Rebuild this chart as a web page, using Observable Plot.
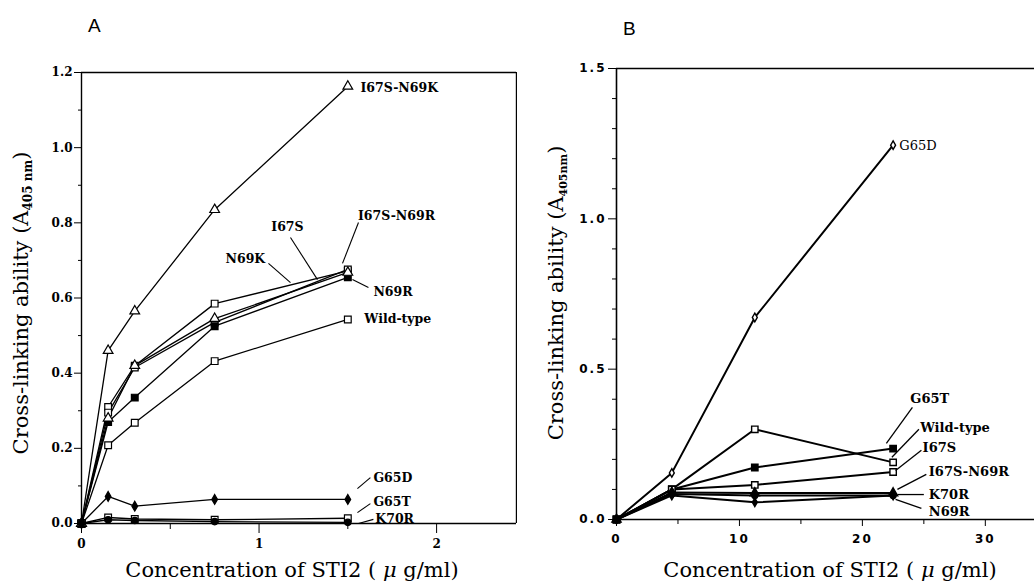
<!DOCTYPE html>
<html><head><meta charset="utf-8">
<script src="https://cdn.jsdelivr.net/npm/d3@7"></script>
<script src="https://cdn.jsdelivr.net/npm/@observablehq/plot@0.6"></script>
<style>
html,body{margin:0;padding:0;background:#fff;}
#wrap{position:relative;width:1034px;height:583px;overflow:hidden;background:#fff;}
#a,#b{position:absolute;top:0;}
#a{left:0;} #b{left:517px;}
</style></head><body>
<div id="wrap"><div id="a"></div><div id="b"></div></div>
<script>
// ---------- Panel A data ----------
const concA = [0, 0.15, 0.3, 0.75, 1.5];
const a_I67S_N69K = [0, 0.46, 0.565, 0.835, 1.163];
const a_N69K      = [0, 0.31, 0.42, 0.585, 0.672];
const a_I67S      = [0, 0.28, 0.42, 0.545, 0.668];
const a_I67S_N69R = [0, 0.295, 0.415, 0.535, 0.676];
const a_N69R      = [0, 0.27, 0.335, 0.525, 0.655];
const a_WT        = [0, 0.208, 0.268, 0.432, 0.543];
const a_G65D      = [0, 0.072, 0.046, 0.064, 0.064];
const a_G65T      = [0, 0.016, 0.012, 0.010, 0.014];
const a_K70R      = [0, 0.010, 0.008, 0.005, 0.003];
const yTicksA = [0, 0.2, 0.4, 0.6, 0.8, 1.0, 1.2];
const yMinorA = [0.1, 0.3, 0.5, 0.7, 0.9, 1.1];
const xTicksA = [0, 1, 2];
const xMinorA = [0.5, 1.5];

// ---------- Panel B data ----------
const concB = [0, 4.5, 11.25, 22.5];
const b_G65D      = [0, 0.155, 0.672, 1.245];
const b_G65T      = [0, 0.10, 0.173, 0.236];
const b_WT        = [0, 0.10, 0.300, 0.190];
const b_I67S      = [0, 0.10, 0.115, 0.158];
const b_I67S_N69R = [0, 0.09, 0.088, 0.088];
const b_K70R      = [0, 0.085, 0.080, 0.080];
const b_N69R      = [0, 0.08, 0.057, 0.080];
const yTicksB = [0, 0.5, 1.0, 1.5];
const yMinorB = [0.1,0.2,0.3,0.4,0.6,0.7,0.8,0.9,1.1,1.2,1.3,1.4];
const xTicksB = [0, 10, 20, 30];
const xMinorB = [5, 15, 25];

// ---------- series definitions ----------
const seriesA = [
  {name:"I67S-N69K", values:a_I67S_N69K},
  {name:"N69K", values:a_N69K},
  {name:"I67S", values:a_I67S},
  {name:"I67S-N69R", values:a_I67S_N69R},
  {name:"N69R", values:a_N69R},
  {name:"Wild-type", values:a_WT},
  {name:"G65D", values:a_G65D},
  {name:"G65T", values:a_G65T},
  {name:"K70R", values:a_K70R}
];
const seriesB = [
  {name:"G65D", values:b_G65D},
  {name:"G65T", values:b_G65T},
  {name:"Wild-type", values:b_WT},
  {name:"I67S", values:b_I67S},
  {name:"I67S-N69R", values:b_I67S_N69R},
  {name:"K70R", values:b_K70R},
  {name:"N69R", values:b_N69R}
];
const styleA = {
  "I67S-N69K":["triangle","white"], "N69K":["square","white"], "I67S":["triangle","white"],
  "I67S-N69R":["square","white"], "N69R":["square","black"], "Wild-type":["square","white"],
  "G65D":["diamond","black"], "G65T":["square","white"], "K70R":["circle","black"]
};
const styleB = {
  "G65D":["diamond","white"], "G65T":["square","black"], "Wild-type":["square","white"],
  "I67S":["square","white"], "I67S-N69R":["triangle","black"], "K70R":["circle","black"],
  "N69R":["diamond","black"]
};
function toRows(conc, series, style) {
  return series.flatMap(s => conc.map((c, i) => ({
    series: s.name, x: c, y: s.values[i], symbol: style[s.name][0], fill: style[s.name][1]
  })));
}
const rowsA = toRows(concA, seriesA, styleA);
const rowsB = toRows(concB, seriesB, styleB);

// ---------- annotations (data-space positions) ----------
const notesA = [
  {text:"I67S-N69K", x:1.571, y:1.160, anchor:"start"},
  {text:"I67S-N69R", x:1.774, y:0.817, anchor:"middle", l:[1.56,0.801,1.47,0.692]},
  {text:"I67S", x:1.16, y:0.788, anchor:"middle", l:[1.177,0.761,1.329,0.649]},
  {text:"N69K", x:0.923, y:0.705, anchor:"middle", l:[1.053,0.692,1.177,0.641]},
  {text:"N69R", x:1.644, y:0.617, anchor:"start", l:[1.616,0.628,1.526,0.649]},
  {text:"Wild-type", x:1.593, y:0.543, anchor:"start"},
  {text:"G65D", x:1.644, y:0.120, anchor:"start", l:[1.627,0.122,1.554,0.093]},
  {text:"G65T", x:1.644, y:0.056, anchor:"start", l:[1.627,0.053,1.554,0.029]},
  {text:"K70R", x:1.655, y:0.011, anchor:"start", l:[1.644,0.011,1.56,0.0]}
];
const notesB = [
  {text:"G65D", x:23.0, y:1.243, anchor:"start", weight:"normal"},
  {text:"G65T", x:23.9, y:0.40, anchor:"start", l:[24.07,0.373,21.95,0.253]},
  {text:"Wild-type", x:24.7, y:0.306, anchor:"start", l:[24.6,0.30,22.4,0.207]},
  {text:"I67S", x:24.9, y:0.237, anchor:"start", l:[24.8,0.23,22.7,0.163]},
  {text:"I67S-N69R", x:25.4, y:0.157, anchor:"start", l:[25.2,0.15,22.85,0.10]},
  {text:"K70R", x:25.4, y:0.083, anchor:"start", l:[25.0,0.083,22.85,0.083]},
  {text:"N69R", x:25.4, y:0.027, anchor:"start", l:[24.8,0.037,22.7,0.067]}
];
const leaders = notes => notes.filter(d => d.l).map(d => ({x1:d.l[0], y1:d.l[1], x2:d.l[2], y2:d.l[3]}));

const SERIF = "DejaVu Serif";
function noteMarks(notes, size) {
  const marks = [];
  for (const a of ["start", "middle"]) {
    for (const w of ["bold", "normal"]) {
      const sub = notes.filter(d => d.anchor === a && (d.weight || "bold") === w);
      if (sub.length) marks.push(Plot.text(sub, {
        x:"x", y:"y", text:"text", textAnchor:a, fontFamily:SERIF, fontSize:size, fontWeight:w, fill:"black"
      }));
    }
  }
  return marks;
}
function dotMarks(rows, sizes, sw) {
  return Object.entries(sizes).map(([sym, r]) => Plot.dot(rows.filter(d => d.symbol === sym), {
    x:"x", y:"y", symbol:"symbol", fill:"fill", stroke:"black", strokeWidth:sw, r
  }));
}

// ---------- Panel A ----------
const plotA = Plot.plot({
  width: 517, height: 583,
  marginLeft: 81, marginRight: 1, marginTop: 72, marginBottom: 60,
  x: {domain:[0, 2.45]},
  y: {domain:[0, 1.2]},
  color: {type:"identity"}, symbol: {type:"identity"},
  style: {fontFamily: SERIF, background:"white", color:"black"},
  marks: [
    Plot.ruleY([0, 1.2], {stroke:"black", strokeWidth:1.4}),
    Plot.ruleX([0, 2.45], {stroke:"black", strokeWidth:1.4}),
    Plot.axisY({ticks:yTicksA, tickSize:7, tickPadding:2, tickFormat:d3.format(".1f"), fontWeight:"bold", fontSize:12, label:null}),
    Plot.axisY({ticks:yMinorA, tickSize:3, tickFormat:() => "", label:null}),
    Plot.axisX({ticks:xTicksA, tickSize:10, tickPadding:6, tickFormat:d3.format("d"), fontWeight:"bold", fontSize:12, label:null}),
    Plot.axisX({ticks:xMinorA, tickSize:6, tickFormat:() => "", label:null}),
    Plot.line(rowsA, {x:"x", y:"y", z:"series", stroke:"black", strokeWidth:1.3}),
    ...dotMarks(rowsA, {square:3.8, triangle:3.6, diamond:3.0, circle:3.2}, 1.2),
    Plot.link(leaders(notesA), {x1:"x1", y1:"y1", x2:"x2", y2:"y2", stroke:"black", strokeWidth:1.1}),
    ...noteMarks(notesA, 12.5)
  ]
});

// ---------- Panel B ----------
const plotB = Plot.plot({
  width: 517, height: 583,
  marginLeft: 99, marginRight: 0, marginTop: 68, marginBottom: 64,
  x: {domain:[0, 34]},
  y: {domain:[0, 1.5]},
  color: {type:"identity"}, symbol: {type:"identity"},
  style: {fontFamily: SERIF, background:"white", color:"black"},
  marks: [
    Plot.ruleY([0, 1.5], {stroke:"black", strokeWidth:1.6}),
    Plot.ruleX([0], {stroke:"black", strokeWidth:1.6}),
    Plot.axisY({ticks:yTicksB, tickSize:8, tickPadding:2, tickFormat:d3.format(".1f"), fontFamily:"DejaVu Sans", fontWeight:"bold", fontSize:12, label:null}),
    Plot.axisY({ticks:yMinorB, tickSize:4, tickFormat:() => "", label:null}),
    Plot.axisX({ticks:xTicksB, tickSize:7, tickPadding:8, tickFormat:d3.format("d"), fontFamily:"DejaVu Sans", fontWeight:"bold", fontSize:12, label:null}),
    Plot.axisX({ticks:xMinorB, tickSize:5, tickFormat:() => "", label:null}),
    Plot.line(rowsB, {x:"x", y:"y", z:"series", stroke:"black", strokeWidth:2}),
    ...dotMarks(rowsB, {square:3.6, triangle:3.4, diamond:2.6, circle:3.0}, 1.4),
    Plot.link(leaders(notesB), {x1:"x1", y1:"y1", x2:"x2", y2:"y2", stroke:"black", strokeWidth:1.3}),
    ...noteMarks(notesB, 13)
  ]
});

document.getElementById("a").append(plotA);
document.getElementById("b").append(plotB);

// letter-spaced tick labels in panel B
d3.select(plotB).selectAll('g[aria-label$="tick label"] text').attr("letter-spacing", "2px");

// ---------- titles (real SVG text with subscripts) ----------
function addTitle(svg, x, y, rotate, parts, size, family, weight, anchor) {
  const t = d3.select(svg).append("text")
    .attr("transform", `translate(${x},${y}) rotate(${rotate})`)
    .attr("text-anchor", anchor).attr("font-family", family)
    .attr("font-size", size).attr("font-weight", weight).attr("fill", "black");
  parts.forEach(p => {
    const s = t.append("tspan").text(p.t);
    if (p.size) s.attr("font-size", p.size);
    if (p.dy) s.attr("dy", p.dy);
    if (p.italic) s.attr("font-style", "italic");
    if (p.weight) s.attr("font-weight", p.weight);
  });
}
const xTitle = [{t:"Concentration of STI2 ( "}, {t:"μ", italic:true}, {t:" g/ml)"}];
addTitle(plotA, 292, 577, 0, xTitle, 21, SERIF, "normal", "middle");
addTitle(plotB, 313, 577, 0, xTitle, 21, SERIF, "normal", "middle");
addTitle(plotA, 28, 303, -90, [{t:"Cross-linking ability (A"}, {t:"405 nm", size:12, dy:"4", weight:"bold"}, {t:")", dy:"-4"}], 21, SERIF, "normal", "middle");
addTitle(plotB, 46, 293, -90, [{t:"Cross-linking ability (A"}, {t:"405nm", size:11, dy:"4", weight:"bold"}, {t:")", dy:"-4"}], 21, SERIF, "normal", "middle");
addTitle(plotA, 88, 32, 0, [{t:"A"}], 19, "Liberation Sans", "normal", "start");
addTitle(plotB, 106, 35, 0, [{t:"B"}], 19, "Liberation Sans", "normal", "start");
</script>
</body></html>
